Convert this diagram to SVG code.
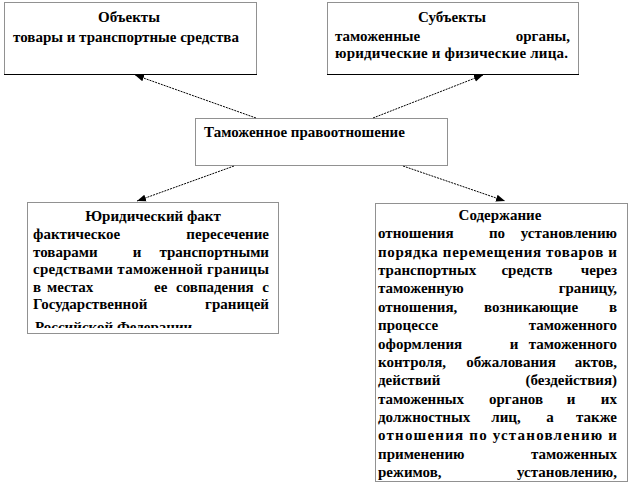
<svg xmlns="http://www.w3.org/2000/svg" width="630" height="493" viewBox="0 0 630 493">
<style>
  .box { fill: #ffffff; stroke: #222; stroke-width: 1; stroke-dasharray: 1 1; }
  .solid { stroke: #000; stroke-width: 1.2; fill: none; }
  .t { font-weight: bold; font-size: 15px; fill: #000; }
  .c { text-anchor: middle; }
  .e { text-anchor: end; }
  .m { text-anchor: middle; }
  .conn { stroke: #000; stroke-width: 1; stroke-dasharray: 2 1; fill: none; marker-end: url(#ah); }
</style>
<defs>
  <marker id="ah" markerUnits="userSpaceOnUse" markerWidth="10" markerHeight="8" refX="9" refY="4" orient="auto">
    <path d="M0,0.5 L9,4 L0,7.5 Z" fill="#000"/>
  </marker>
  <clipPath id="clipL"><rect x="20" y="200" width="270" height="128"/></clipPath>
</defs>
<rect width="630" height="493" fill="#ffffff"/>
<g font-family="'Liberation Serif', 'Times New Roman', serif">
<g id="connectors">
  <line class="conn" x1="256" y1="118" x2="135" y2="75"/>
  <line class="conn" x1="373" y1="118" x2="483" y2="75"/>
  <line class="conn" x1="234" y1="166" x2="137" y2="201"/>
  <line class="conn" x1="403" y1="166" x2="505" y2="201"/>
</g>

<g id="objects">
  <rect class="box" x="4.5" y="2.5" width="252" height="72"/>
  <line class="solid" x1="4" y1="74.5" x2="257" y2="74.5"/>
  <text class="t c" x="129" y="22">Объекты</text>
  <text class="t" x="13" y="42">товары и транспортные средства</text>
</g>

<g id="subjects">
  <rect class="box" x="327.5" y="2.5" width="251" height="72"/>
  <line class="solid" x1="327" y1="74.5" x2="579" y2="74.5"/>
  <text class="t c" x="452" y="22">Субъекты</text>
  <text class="t" x="335" y="41">таможенные</text>
  <text class="t e" x="570" y="41">органы,</text>
  <text class="t" x="335" y="57.5" textLength="233" lengthAdjust="spacing">юридические и физические лица.</text>
</g>

<g id="relation">
  <rect class="box" x="195.5" y="118.5" width="252" height="47"/>
  <text class="t" x="204" y="137">Таможенное правоотношение</text>
</g>

<g id="fact">
  <rect class="box" x="27.5" y="202.5" width="251" height="131"/>
  <text class="t c" x="153" y="221">Юридический факт</text>
  <text class="t" x="33" y="239">фактическое</text>
  <text class="t e" x="269" y="239">пересечение</text>
  <text class="t" x="33" y="256.5">товарами</text>
  <text class="t m" x="137" y="256.5">и</text>
  <text class="t e" x="269" y="256.5">транспортными</text>
  <text class="t" x="33" y="274" textLength="236" lengthAdjust="spacing">средствами таможенной границы</text>
  <text class="t" x="33" y="291.5">в</text>
  <text class="t" x="47" y="291.5">местах</text>
  <text class="t" x="154" y="291.5">ее</text>
  <text class="t" x="176" y="291.5">совпадения</text>
  <text class="t e" x="269" y="291.5">с</text>
  <text class="t" x="33" y="309" font-size="16">Государственной</text>
  <text class="t e" x="269" y="309">границей</text>
  <g clip-path="url(#clipL)">
    <text class="t" x="35" y="331.5">Российской Федерации</text>
  </g>
</g>

<g id="content">
  <rect class="box" x="375.5" y="203.5" width="252" height="278"/>
  <text class="t c" x="500" y="220">Содержание</text>
  <text class="t" x="378" y="238.4">отношения</text>
  <text class="t m" x="497" y="238.4">по</text>
  <text class="t e" x="617" y="238.4">установлению</text>
  <text class="t" x="378" y="256.7" textLength="239" lengthAdjust="spacing">порядка перемещения товаров и</text>
  <text class="t" x="378" y="275">транспортных</text>
  <text class="t m" x="527" y="275">средств</text>
  <text class="t e" x="617" y="275">через</text>
  <text class="t" x="378" y="293.4">таможенную</text>
  <text class="t e" x="617" y="293.4">границу,</text>
  <text class="t" x="378" y="311.8">отношения,</text>
  <text class="t m" x="531" y="311.8">возникающие</text>
  <text class="t e" x="617" y="311.8">в</text>
  <text class="t" x="378" y="330.1">процессе</text>
  <text class="t e" x="617" y="330.1">таможенного</text>
  <text class="t" x="378" y="348.5">оформления</text>
  <text class="t m" x="514" y="348.5">и</text>
  <text class="t e" x="617" y="348.5">таможенного</text>
  <text class="t" x="378" y="366.8">контроля,</text>
  <text class="t m" x="511" y="366.8">обжалования</text>
  <text class="t e" x="617" y="366.8">актов,</text>
  <text class="t" x="378" y="385.2">действий</text>
  <text class="t e" x="617" y="385.2">(бездействия)</text>
  <text class="t" x="378" y="403.5">таможенных</text>
  <text class="t m" x="516" y="403.5">органов</text>
  <text class="t m" x="571" y="403.5">и</text>
  <text class="t e" x="617" y="403.5">их</text>
  <text class="t" x="378" y="421.9">должностных</text>
  <text class="t m" x="506" y="421.9">лиц,</text>
  <text class="t m" x="550" y="421.9">а</text>
  <text class="t e" x="617" y="421.9">также</text>
  <text class="t" x="378" y="440.2" textLength="239" lengthAdjust="spacing">отношения по установлению и</text>
  <text class="t" x="378" y="458.6">применению</text>
  <text class="t e" x="617" y="458.6">таможенных</text>
  <text class="t" x="378" y="476.9">режимов,</text>
  <text class="t e" x="617" y="476.9">установлению,</text>
</g>
</g>
</svg>
